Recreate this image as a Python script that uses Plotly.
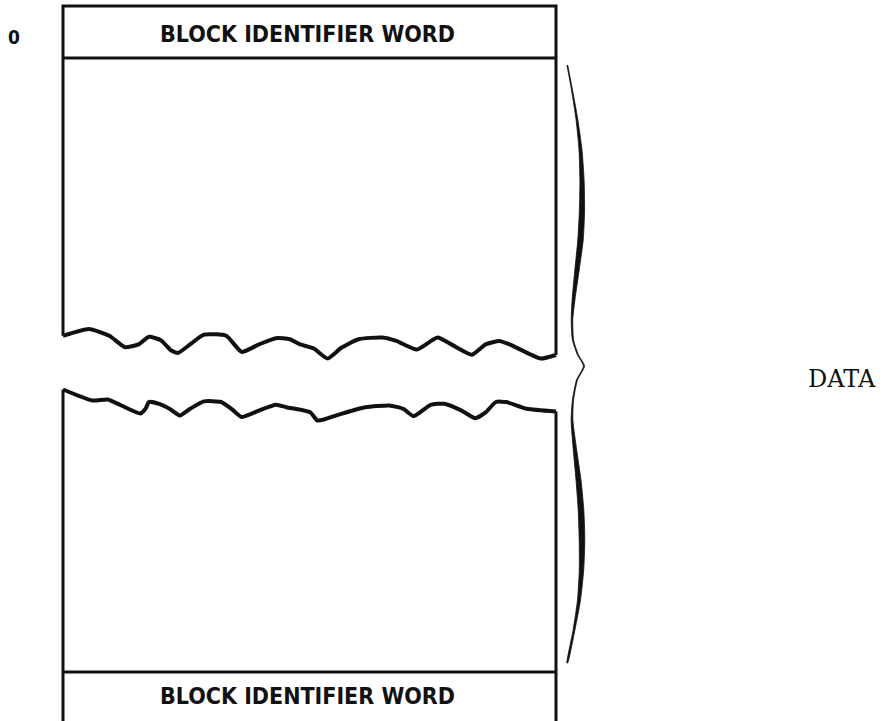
import plotly.graph_objects as go

# ---- diagram data (page coordinates, y grows downward) ----
box_left, box_right = 63, 556
box_top, header_line, footer_line, page_bottom = 6, 58, 672, 721

header_label = "BLOCK IDENTIFIER WORD"
footer_label = "BLOCK IDENTIFIER WORD"
address_label = "0"
brace_label = "DATA"

# upper torn edge
wave_upper_x = [63, 88.8, 109.4, 124.8, 138.6, 148.9, 160.9, 171.2, 178.1, 190.1, 203.9,
                226.2, 241.7, 258.9, 276.0, 289.8, 300.1, 313.8, 327.6, 341.3, 358.5,
                382.5, 396.3, 416.9, 437.5, 451.3, 471.9, 485.6, 499.4, 509.7, 540.6, 556]
wave_upper_y = [335.8, 328.9, 335.8, 347.1, 344.4, 336.8, 340.2, 350.5, 352.9, 344.4, 334.7,
                335.8, 351.9, 344.4, 338.2, 339.2, 344.4, 348.5, 358.5, 347.8, 339.2,
                337.5, 340.9, 349.5, 337.5, 344.4, 354.7, 344.4, 340.9, 344.4, 358.5, 355]

# lower torn edge
wave_lower_x = [63, 92.2, 107.7, 121.4, 140.3, 145.5, 148.9, 159.2, 169.5, 179.8, 190.1,
                203.9, 221.1, 231.4, 241.7, 258.9, 276.0, 286.3, 300.1, 310.4, 317.3,
                324.2, 341.3, 365.4, 389.4, 403.2, 413.5, 430.7, 444.4, 461.6, 475.3,
                485.6, 495.9, 506.2, 526.9, 556]
wave_lower_y = [389.5, 400.5, 399.5, 405.5, 413.5, 408.8, 402.0, 403.8, 408.8, 415.5, 408.8,
                401.4, 402.0, 408.8, 417.0, 410.6, 404.8, 407.2, 409.6, 412.4, 420.5,
                419.4, 413.8, 407.2, 405.5, 408.8, 416.2, 404.8, 403.8, 410.6, 418.2,
                412.4, 402.0, 402.0, 408.8, 411.5]

# brace centreline and stroke thickness
brace_y = [65, 90, 120, 150, 180, 210, 240, 270, 300, 320, 340, 355, 366,
           380, 400, 420, 450, 480, 510, 540, 570, 600, 630, 663]
brace_x = [567.3, 572, 577, 580.5, 582, 582, 580.5, 577, 573.5, 572, 573, 578, 584,
           577, 573, 572, 575, 578.5, 581, 582, 581.5, 579, 574, 567.3]
brace_w = [0.8, 1.0, 1.8, 3.0, 4.2, 5.2, 5.4, 4.4, 2.8, 1.6, 1.2, 1.0, 1.0,
           1.0, 1.1, 1.8, 3.4, 5.0, 5.6, 5.6, 4.4, 3.0, 1.8, 0.8]

ink = "#111111"
lw = 3

fig = go.Figure()


def line(xs, ys, w=lw, shape="linear"):
    fig.add_trace(go.Scatter(x=xs, y=ys, mode="lines",
                             line=dict(color=ink, width=w, shape=shape, smoothing=0.5),
                             hoverinfo="skip", showlegend=False))


# upper block outline
line([box_left, box_left, box_right, box_right],
     [wave_upper_y[0], box_top, box_top, wave_upper_y[-1]])
line([box_left, box_right], [header_line, header_line])
line(wave_upper_x, wave_upper_y, 4, "spline")

# lower block outline
line([box_left, box_left], [wave_lower_y[0], page_bottom + 5])
line([box_right, box_right], [wave_lower_y[-1], page_bottom + 5])
line([box_left, box_right], [footer_line, footer_line])
line(wave_lower_x, wave_lower_y, 4, "spline")

# brace as a filled stroke of variable width
left = [x - w / 2 for x, w in zip(brace_x, brace_w)]
right = [x + w / 2 for x, w in zip(brace_x, brace_w)]
fig.add_trace(go.Scatter(x=left + right[::-1], y=brace_y + brace_y[::-1],
                         mode="lines", fill="toself", fillcolor=ink,
                         line=dict(color=ink, width=0.8, shape="spline", smoothing=0.6),
                         hoverinfo="skip", showlegend=False))

cond = "DejaVu Sans Condensed, Liberation Sans Narrow, Roboto, sans-serif"
fig.add_annotation(x=307, y=33.5, text="<b>" + header_label + "</b>", showarrow=False,
                   font=dict(family=cond, size=23, color=ink))
fig.add_annotation(x=307, y=696, text="<b>" + footer_label + "</b>", showarrow=False,
                   font=dict(family=cond, size=23, color=ink))
fig.add_annotation(x=14, y=37, text="<b>" + address_label + "</b>", showarrow=False,
                   font=dict(family=cond, size=19, color=ink))
fig.add_annotation(x=842, y=379, text=brace_label, showarrow=False,
                   font=dict(family="DejaVu Serif, Liberation Serif, serif",
                             size=24, color=ink))

fig.update_layout(width=883, height=721, margin=dict(l=0, r=0, t=0, b=0),
                  paper_bgcolor="white", plot_bgcolor="white",
                  xaxis=dict(range=[0, 883], visible=False, fixedrange=True),
                  yaxis=dict(range=[721, 0], visible=False, fixedrange=True),
                  showlegend=False)

fig.write_html("out.html", config={"displayModeBar": False},
               post_script="document.body.style.margin='0';document.body.style.overflow='hidden';")
